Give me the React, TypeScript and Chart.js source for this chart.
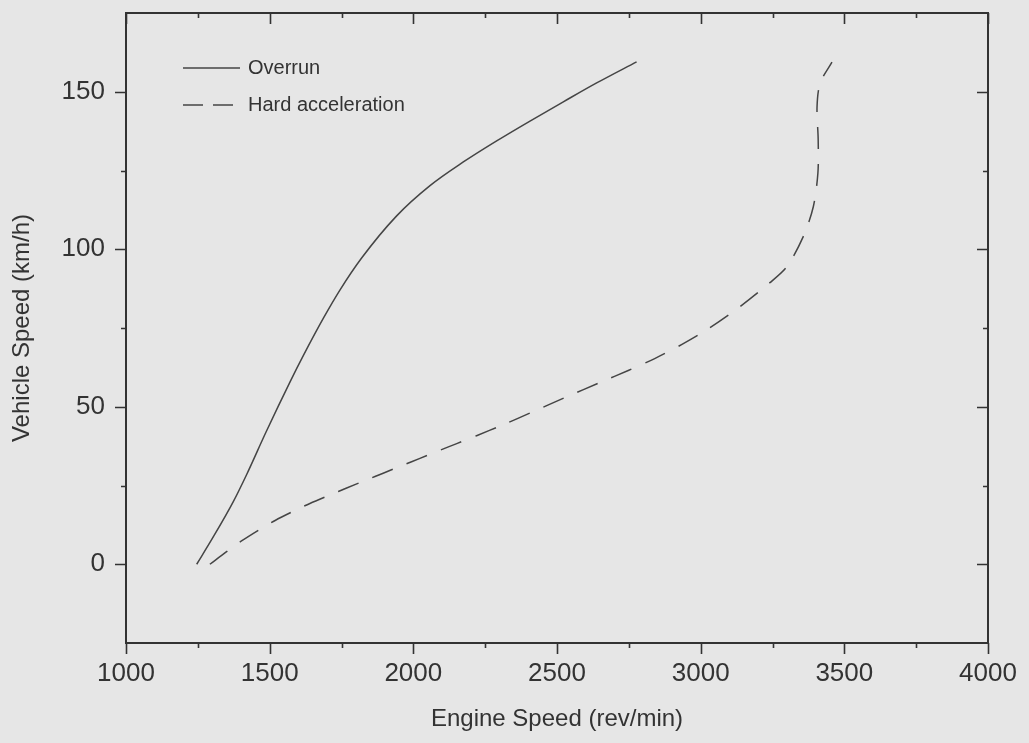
import React, { useEffect, useRef } from "react";
import { Chart, registerables } from "chart.js";

Chart.register(...registerables);

// Overrun curve (engine speed rev/min, vehicle speed km/h)
const overrunRpm = [1246, 1300, 1373, 1420, 1487, 1571, 1617, 1687, 1745, 1820, 1942, 2058, 2174, 2290, 2406, 2522, 2638, 2777];
const overrunSpeed = [0, 8.1, 19.8, 28.5, 41.9, 57.9, 66.2, 78.1, 87.1, 97.2, 110.6, 120.2, 127.7, 134.4, 140.7, 146.8, 152.8, 159.5];

// Hard acceleration curve
const hardRpm = [1292, 1350, 1402, 1466, 1519, 1582, 1640, 1710, 1768, 1838, 1895, 1965, 2023, 2093, 2151, 2220, 2310, 2406, 2530, 2650, 2750, 2840, 2935, 3022, 3137, 3241, 3300, 3357, 3392, 3408, 3409, 3405, 3416, 3457];
const hardSpeed = [0, 4.0, 7.4, 11.1, 13.9, 16.8, 19.3, 22.0, 24.2, 26.8, 28.9, 31.5, 33.6, 36.2, 38.3, 40.8, 44.2, 48.0, 53.0, 57.7, 61.6, 65.3, 69.8, 74.5, 81.8, 89.4, 94.5, 104, 113.5, 124.2, 134.7, 145.2, 152.8, 159.4];

const seriesLabels = ["Overrun", "Hard acceleration"];

const xTicks = [1000, 1500, 2000, 2500, 3000, 3500, 4000];
const xMinorTicks = [1250, 1750, 2250, 2750, 3250, 3750];
const yTicks = [0, 50, 100, 150];
const yMinorTicks = [25, 75, 125];

const X_MIN = 1000;
const X_MAX = 4000;
const Y_MIN = -25;
const Y_MAX = 175;

const INK = "#333333";
const CURVE = "#454545";
const FONT = "'Liberation Sans', Arial, Helvetica, sans-serif";

const framePlugin = {
  id: "frameTicks",
  afterDraw(chart: any) {
    const { ctx, chartArea, scales } = chart;
    const { left, right, top, bottom } = chartArea;
    const x = scales.x;
    const y = scales.y;
    ctx.save();
    ctx.strokeStyle = INK;
    ctx.lineWidth = 2;
    ctx.strokeRect(left, top, right - left, bottom - top);
    ctx.lineWidth = 1.6;
    const major = 11;
    const minor = 5;
    ctx.beginPath();
    for (const v of xTicks) {
      const p = Math.round(x.getPixelForValue(v)) + 0.5;
      ctx.moveTo(p, bottom);
      ctx.lineTo(p, bottom + major);
      ctx.moveTo(p, top);
      ctx.lineTo(p, top + major);
    }
    for (const v of xMinorTicks) {
      const p = Math.round(x.getPixelForValue(v)) + 0.5;
      ctx.moveTo(p, bottom);
      ctx.lineTo(p, bottom + minor);
      ctx.moveTo(p, top);
      ctx.lineTo(p, top + minor);
    }
    for (const v of yTicks) {
      const p = Math.round(y.getPixelForValue(v)) + 0.5;
      ctx.moveTo(left - major, p);
      ctx.lineTo(left, p);
      ctx.moveTo(right - major, p);
      ctx.lineTo(right, p);
    }
    for (const v of yMinorTicks) {
      const p = Math.round(y.getPixelForValue(v)) + 0.5;
      ctx.moveTo(left - minor, p);
      ctx.lineTo(left, p);
      ctx.moveTo(right - minor, p);
      ctx.lineTo(right, p);
    }
    ctx.stroke();

    // legend
    const lx0 = left + 57;
    const lx1 = left + 114;
    const rows = [top + 55, top + 92];
    chart.data.datasets.forEach((ds: any, i: number) => {
      const yy = rows[i];
      ctx.beginPath();
      ctx.strokeStyle = ds.borderColor;
      ctx.lineWidth = ds.borderWidth;
      ctx.setLineDash(i === 1 ? [20, 10] : []);
      ctx.moveTo(lx0, yy);
      ctx.lineTo(lx1, yy);
      ctx.stroke();
      ctx.setLineDash([]);
      ctx.fillStyle = INK;
      ctx.font = `20px ${FONT}`;
      ctx.textBaseline = "middle";
      ctx.textAlign = "left";
      ctx.fillText(ds.label, lx1 + 8, yy);
    });
    ctx.restore();
  },
};

const zeroPad = (s: any) => {
  s.paddingTop = 0;
  s.paddingBottom = 0;
  s.paddingLeft = 0;
  s.paddingRight = 0;
};

export default function App() {
  const canvasRef = useRef<HTMLCanvasElement | null>(null);

  useEffect(() => {
    const canvas = canvasRef.current;
    if (!canvas) return;
    const chart = new Chart(canvas, {
      type: "scatter",
      data: {
        datasets: [
          {
            label: seriesLabels[0],
            data: overrunRpm.map((r, i) => ({ x: r, y: overrunSpeed[i] })),
            showLine: true,
            borderColor: CURVE,
            borderWidth: 1.5,
            pointRadius: 0,
            cubicInterpolationMode: "monotone",
            fill: false,
          },
          {
            label: seriesLabels[1],
            data: hardRpm.map((r, i) => ({ x: r, y: hardSpeed[i] })),
            showLine: true,
            borderColor: CURVE,
            borderWidth: 1.5,
            borderDash: [22, 15],
            pointRadius: 0,
            tension: 0.3,
            fill: false,
          },
        ],
      },
      options: {
        animation: false,
        responsive: true,
        maintainAspectRatio: false,
        layout: { padding: { left: 0, right: 41, top: 13, bottom: 0 } },
        plugins: {
          legend: { display: false },
          tooltip: { enabled: false },
        },
        scales: {
          x: {
            type: "linear",
            min: X_MIN,
            max: X_MAX,
            afterBuildTicks: (s: any) => {
              s.ticks = xTicks.map((v) => ({ value: v }));
            },
            afterFit: (s: any) => {
              s.height = 100;
              zeroPad(s);
            },
            grid: { display: false, drawTicks: false },
            border: { display: false },
            ticks: {
              padding: 15,
              color: INK,
              font: { family: FONT, size: 26 },
              maxRotation: 0,
              autoSkip: false,
              callback: (v: any) => String(v),
            },
            title: {
              display: true,
              text: "Engine Speed (rev/min)",
              color: INK,
              font: { family: FONT, size: 24 },
              padding: { top: 0, bottom: 9 },
            },
          },
          y: {
            type: "linear",
            min: Y_MIN,
            max: Y_MAX,
            afterBuildTicks: (s: any) => {
              s.ticks = yTicks.map((v) => ({ value: v }));
            },
            afterFit: (s: any) => {
              s.width = 126;
              zeroPad(s);
            },
            grid: { display: false, drawTicks: false },
            border: { display: false },
            ticks: {
              padding: 21,
              color: INK,
              font: { family: FONT, size: 26 },
              autoSkip: false,
              callback: (v: any) => String(v),
            },
            title: {
              display: true,
              text: "Vehicle Speed (km/h)",
              color: INK,
              font: { family: FONT, size: 24 },
              padding: { top: 8, bottom: 0 },
            },
          },
        },
      },
      plugins: [framePlugin],
    });
    return () => chart.destroy();
  }, []);

  return (
    <div
      style={{
        position: "fixed",
        left: 0,
        top: 0,
        width: 1029,
        height: 743,
        background: "#e6e6e6",
      }}
    >
      <canvas ref={canvasRef} />
    </div>
  );
}
